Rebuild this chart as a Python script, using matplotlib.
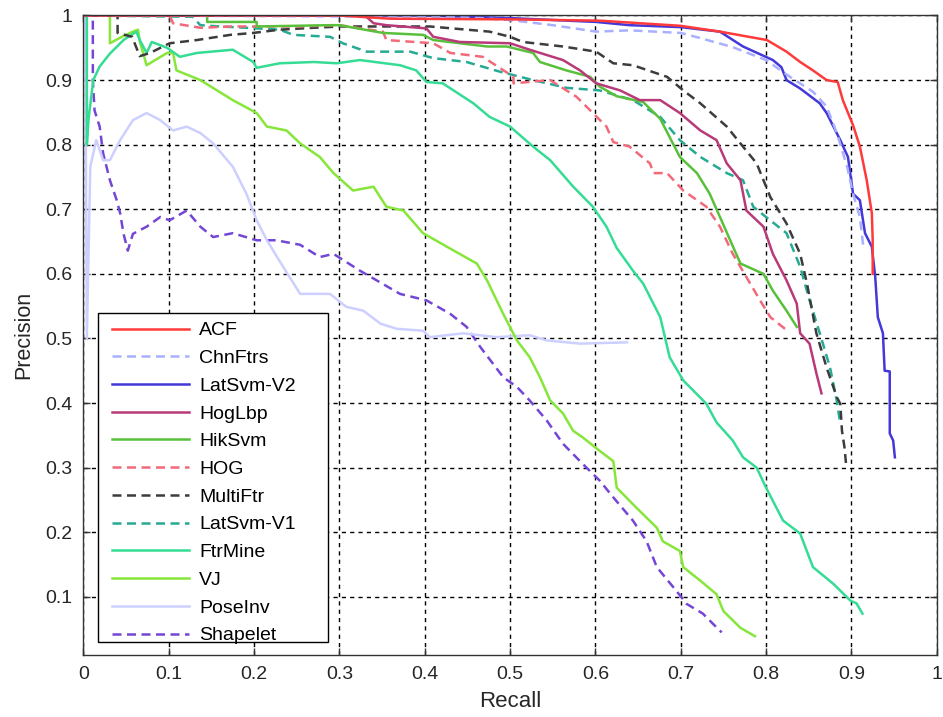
import numpy as np
import matplotlib
matplotlib.use('Agg')
import matplotlib.pyplot as plt
from matplotlib.patches import Rectangle

plt.rcParams['font.family'] = ['Liberation Sans', 'DejaVu Sans']

# precision / recall curves
acf_r = [0, 0.30, 0.36, 0.50, 0.605, 0.70, 0.746, 0.801, 0.824, 0.840, 0.855, 0.871, 0.884, 0.890, 0.902, 0.910, 0.918, 0.924, 0.925, 0.925]
acf_p = [1.0, 1.0, 0.995, 0.994, 0.992, 0.984, 0.975, 0.962, 0.944, 0.928, 0.915, 0.900, 0.897, 0.869, 0.830, 0.797, 0.745, 0.694, 0.652, 0.600]

chn_r = [0, 0.42, 0.465, 0.50, 0.55, 0.601, 0.64, 0.70, 0.723, 0.761, 0.80, 0.828, 0.855, 0.871, 0.883, 0.895, 0.902, 0.910, 0.914]
chn_p = [1.0, 0.998, 0.996, 0.993, 0.985, 0.975, 0.977, 0.973, 0.965, 0.951, 0.931, 0.905, 0.882, 0.859, 0.818, 0.766, 0.724, 0.688, 0.642]

lat2_r = [0, 0.40, 0.50, 0.601, 0.64, 0.70, 0.746, 0.773, 0.808, 0.818, 0.824, 0.840, 0.863, 0.871, 0.879, 0.887, 0.896, 0.902, 0.910, 0.916, 0.924, 0.928, 0.931, 0.937, 0.939, 0.945, 0.945, 0.949, 0.951]
lat2_p = [1.0, 1.0, 0.996, 0.990, 0.985, 0.982, 0.975, 0.952, 0.931, 0.920, 0.900, 0.887, 0.864, 0.849, 0.828, 0.807, 0.781, 0.724, 0.714, 0.663, 0.642, 0.595, 0.533, 0.508, 0.450, 0.449, 0.353, 0.342, 0.316]

hoglbp_r = [0, 0.33, 0.34, 0.355, 0.402, 0.41, 0.441, 0.50, 0.523, 0.562, 0.582, 0.601, 0.629, 0.652, 0.676, 0.699, 0.723, 0.742, 0.754, 0.770, 0.777, 0.797, 0.808, 0.824, 0.836, 0.840, 0.851, 0.859, 0.865]
hoglbp_p = [1.0, 1.0, 0.988, 0.985, 0.980, 0.967, 0.959, 0.957, 0.947, 0.931, 0.915, 0.895, 0.884, 0.869, 0.869, 0.849, 0.822, 0.807, 0.771, 0.745, 0.698, 0.673, 0.631, 0.590, 0.554, 0.508, 0.492, 0.446, 0.415]

hik_r = [0, 0.145, 0.145, 0.203, 0.203, 0.29, 0.30, 0.351, 0.398, 0.41, 0.473, 0.496, 0.527, 0.535, 0.566, 0.594, 0.605, 0.625, 0.656, 0.676, 0.699, 0.719, 0.734, 0.746, 0.758, 0.770, 0.797, 0.808, 0.824, 0.836]
hik_p = [1.0, 1.0, 0.990, 0.990, 0.983, 0.985, 0.985, 0.973, 0.970, 0.962, 0.952, 0.952, 0.942, 0.928, 0.915, 0.905, 0.890, 0.875, 0.866, 0.840, 0.781, 0.756, 0.724, 0.688, 0.652, 0.616, 0.600, 0.574, 0.543, 0.518]

hog_r = [0, 0.101, 0.105, 0.137, 0.175, 0.254, 0.30, 0.351, 0.355, 0.41, 0.43, 0.468, 0.504, 0.504, 0.547, 0.578, 0.597, 0.613, 0.621, 0.64, 0.664, 0.668, 0.684, 0.703, 0.73, 0.746, 0.761, 0.777, 0.793, 0.805, 0.825]
hog_p = [1.0, 1.0, 0.988, 0.981, 0.983, 0.983, 0.985, 0.975, 0.962, 0.957, 0.942, 0.936, 0.905, 0.895, 0.900, 0.874, 0.849, 0.828, 0.804, 0.797, 0.771, 0.756, 0.756, 0.729, 0.704, 0.673, 0.631, 0.595, 0.559, 0.533, 0.512]

multi_r = [0, 0.04, 0.04, 0.057, 0.066, 0.078, 0.101, 0.133, 0.172, 0.199, 0.230, 0.270, 0.301, 0.406, 0.476, 0.50, 0.515, 0.562, 0.601, 0.621, 0.644, 0.684, 0.703, 0.723, 0.754, 0.773, 0.789, 0.805, 0.824, 0.840, 0.848, 0.859, 0.871, 0.883, 0.887, 0.889, 0.892, 0.894]
multi_p = [1.0, 1.0, 0.973, 0.967, 0.937, 0.942, 0.957, 0.962, 0.970, 0.973, 0.978, 0.981, 0.983, 0.983, 0.975, 0.967, 0.959, 0.952, 0.944, 0.926, 0.923, 0.905, 0.884, 0.864, 0.828, 0.797, 0.771, 0.719, 0.678, 0.631, 0.585, 0.508, 0.455, 0.409, 0.399, 0.357, 0.331, 0.302]

lat1_r = [0, 0.128, 0.137, 0.160, 0.191, 0.23, 0.246, 0.289, 0.304, 0.332, 0.383, 0.41, 0.449, 0.488, 0.527, 0.566, 0.605, 0.644, 0.676, 0.699, 0.723, 0.754, 0.773, 0.785, 0.80, 0.824, 0.840, 0.851, 0.863, 0.875, 0.883, 0.887]
lat1_p = [1.0, 0.998, 0.985, 0.983, 0.981, 0.978, 0.970, 0.967, 0.957, 0.944, 0.944, 0.934, 0.928, 0.913, 0.900, 0.888, 0.884, 0.869, 0.843, 0.807, 0.781, 0.756, 0.745, 0.704, 0.688, 0.663, 0.611, 0.559, 0.508, 0.455, 0.403, 0.368]

ftr_r = [0, 0.004, 0.004, 0.006, 0.0115, 0.019, 0.031, 0.047, 0.062, 0.066, 0.074, 0.08, 0.098, 0.113, 0.133, 0.175, 0.199, 0.203, 0.23, 0.27, 0.297, 0.324, 0.371, 0.39, 0.402, 0.421, 0.457, 0.476, 0.50, 0.527, 0.547, 0.574, 0.597, 0.613, 0.625, 0.644, 0.656, 0.676, 0.687, 0.703, 0.73, 0.742, 0.761, 0.773, 0.789, 0.80, 0.82, 0.84, 0.855, 0.879, 0.899, 0.906, 0.913]
ftr_p = [1.0, 1.0, 0.80, 0.84, 0.90, 0.921, 0.941, 0.962, 0.975, 0.962, 0.942, 0.959, 0.950, 0.936, 0.942, 0.947, 0.928, 0.919, 0.926, 0.928, 0.926, 0.931, 0.923, 0.915, 0.897, 0.895, 0.864, 0.843, 0.828, 0.797, 0.776, 0.735, 0.704, 0.673, 0.640, 0.605, 0.585, 0.533, 0.471, 0.435, 0.399, 0.370, 0.342, 0.316, 0.300, 0.269, 0.218, 0.198, 0.146, 0.120, 0.094, 0.090, 0.074]

vj_r = [0, 0.031, 0.031, 0.045, 0.058, 0.064, 0.066, 0.074, 0.098, 0.105, 0.109, 0.137, 0.175, 0.203, 0.215, 0.238, 0.254, 0.277, 0.293, 0.316, 0.34, 0.355, 0.375, 0.398, 0.426, 0.461, 0.473, 0.492, 0.508, 0.523, 0.535, 0.547, 0.562, 0.574, 0.585, 0.605, 0.621, 0.625, 0.648, 0.672, 0.679, 0.699, 0.703, 0.723, 0.742, 0.75, 0.77, 0.787]
vj_p = [1.0, 1.0, 0.957, 0.967, 0.975, 0.978, 0.960, 0.923, 0.942, 0.942, 0.915, 0.900, 0.869, 0.849, 0.828, 0.822, 0.802, 0.781, 0.756, 0.729, 0.735, 0.704, 0.698, 0.663, 0.642, 0.616, 0.590, 0.538, 0.497, 0.471, 0.440, 0.404, 0.384, 0.357, 0.347, 0.326, 0.310, 0.269, 0.238, 0.207, 0.186, 0.171, 0.146, 0.125, 0.104, 0.078, 0.052, 0.039]

pose_r = [0, 0.002, 0.004, 0.008, 0.015, 0.023, 0.031, 0.043, 0.058, 0.074, 0.09, 0.105, 0.121, 0.137, 0.152, 0.175, 0.191, 0.203, 0.215, 0.234, 0.254, 0.277, 0.289, 0.308, 0.328, 0.348, 0.367, 0.398, 0.406, 0.445, 0.484, 0.523, 0.543, 0.582, 0.637]
pose_p = [1.0, 1.0, 0.50, 0.766, 0.807, 0.776, 0.776, 0.807, 0.838, 0.849, 0.838, 0.822, 0.828, 0.818, 0.802, 0.766, 0.724, 0.683, 0.652, 0.611, 0.569, 0.569, 0.569, 0.549, 0.543, 0.523, 0.515, 0.512, 0.502, 0.508, 0.502, 0.505, 0.497, 0.492, 0.494]

shape_r = [0, 0.011, 0.011, 0.013, 0.019, 0.023, 0.031, 0.039, 0.043, 0.047, 0.052, 0.058, 0.074, 0.09, 0.101, 0.121, 0.137, 0.152, 0.175, 0.203, 0.226, 0.254, 0.277, 0.293, 0.324, 0.371, 0.402, 0.43, 0.449, 0.465, 0.492, 0.508, 0.523, 0.543, 0.562, 0.585, 0.605, 0.621, 0.644, 0.66, 0.672, 0.695, 0.707, 0.726, 0.738, 0.748]
shape_p = [1.0, 1.0, 0.90, 0.853, 0.828, 0.787, 0.745, 0.714, 0.694, 0.662, 0.636, 0.662, 0.673, 0.688, 0.683, 0.698, 0.673, 0.657, 0.663, 0.652, 0.652, 0.645, 0.626, 0.631, 0.605, 0.569, 0.559, 0.538, 0.518, 0.487, 0.440, 0.425, 0.404, 0.373, 0.337, 0.306, 0.280, 0.254, 0.218, 0.186, 0.146, 0.109, 0.089, 0.074, 0.058, 0.045]

names = ['ACF', 'ChnFtrs', 'LatSvm-V2', 'HogLbp', 'HikSvm', 'HOG',
         'MultiFtr', 'LatSvm-V1', 'FtrMine', 'VJ', 'PoseInv', 'Shapelet']
recalls = [acf_r, chn_r, lat2_r, hoglbp_r, hik_r, hog_r, multi_r, lat1_r, ftr_r, vj_r, pose_r, shape_r]
precisions = [acf_p, chn_p, lat2_p, hoglbp_p, hik_p, hog_p, multi_p, lat1_p, ftr_p, vj_p, pose_p, shape_p]
colors = ['#ff3a3a', '#a8b0ff', '#4438d8', '#b83a78', '#58c03a', '#f2697a',
          '#3c3c3c', '#26aa94', '#34dc94', '#86e63a', '#cdd0ff', '#7446d6']
styles = ['-', '--', '-', '-', '-', '--', '--', '--', '-', '-', '-', '--']

xticks = np.round(np.arange(0, 1.01, 0.1), 1)
yticks = np.round(np.arange(0.1, 1.01, 0.1), 1)

fig = plt.figure(figsize=(9.43, 7.17), dpi=100)
ax = fig.add_axes([0.0885, 0.0865, 0.9048, 0.8919])

# draw last entries first so ACF ends up on top
for i in reversed(range(len(names))):
    ax.plot(recalls[i], precisions[i], color=colors[i], linestyle=styles[i],
            linewidth=1.8, label=names[i],
            dashes=(3.6, 2.2) if styles[i] == '--' else (None, None))

ax.set_xlim(0, 1)
ax.set_ylim(0.01, 1)
ax.set_xticks(xticks)
ax.set_yticks(yticks)
ax.set_xticklabels([f'{t:g}' for t in xticks])
ax.set_yticklabels([f'{t:g}' for t in yticks])
ax.tick_params(direction='in', length=5, width=1, top=True, right=True,
               labelsize=14, colors='#333333', labelcolor='#262626', pad=8)
ax.grid(True, color='black', linestyle=(0, (3, 3)), linewidth=1)
for s in ax.spines.values():
    s.set_color('#333333')
    s.set_linewidth(1)

ax.set_xlabel('Recall', fontsize=16, color='#262626', labelpad=6)
ax.set_ylabel('Precision', fontsize=15.5, color='#262626', labelpad=8)

# MATLAB style legend box: drawn by hand, text/handles placed inside
box = Rectangle((0.0173, 0.0208), 0.2692, 0.5145, transform=ax.transAxes,
                facecolor='white', edgecolor='black', linewidth=1, zorder=4)
ax.add_patch(box)

handles, labels = ax.get_legend_handles_labels()
handles, labels = handles[::-1], labels[::-1]
leg = ax.legend(handles, labels, loc='upper left', bbox_to_anchor=(0.0331, 0.521),
                borderaxespad=0, borderpad=0, fontsize=14, handlelength=4.0,
                handletextpad=0.5, labelspacing=0.52, frameon=False)
leg.set_zorder(5)

fig.savefig('out.png', dpi=100)
